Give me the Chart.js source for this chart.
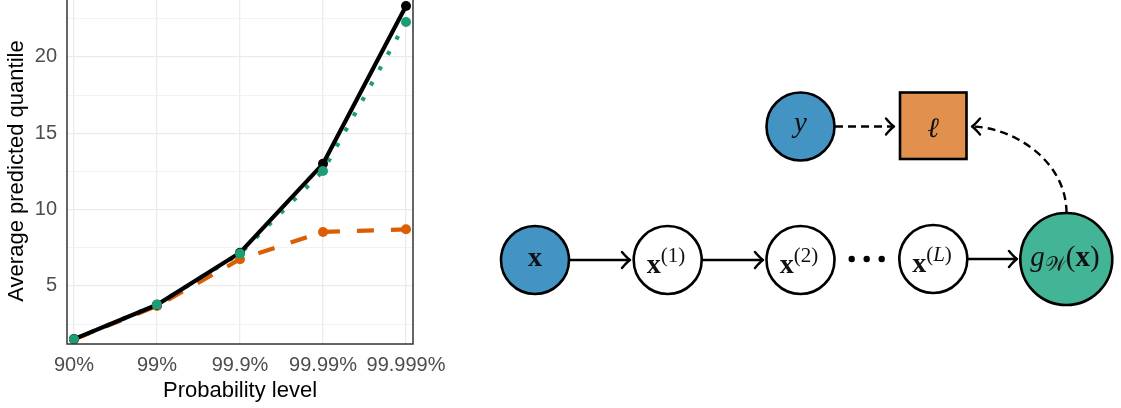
<!DOCTYPE html>
<html>
<head>
<meta charset="utf-8">
<script src="https://cdn.jsdelivr.net/npm/chart.js@4.4.1/dist/chart.umd.min.js"></script>
<style>
  html, body { margin: 0; padding: 0; background: #fff; overflow: hidden; }
  body { width: 1121px; height: 408px; position: relative; }
  #chartBox { position: absolute; left: 0; top: -7px; width: 460px; height: 417px; }
  #diagram { position: absolute; left: 0; top: 0; }
  .node { stroke: #000; stroke-width: 2.6; }
  .edge { stroke: #000; stroke-width: 2.4; fill: none; }
  .head { stroke: #000; stroke-width: 2.4; fill: none; stroke-linecap: round; stroke-linejoin: round; }
  .lbl { font-family: 'Liberation Serif', 'DejaVu Serif', serif; fill: #111; }
</style>
</head>
<body>
<div id="chartBox"><canvas id="quantileChart" width="460" height="417"></canvas></div>

<svg id="diagram" width="1121" height="408" xmlns="http://www.w3.org/2000/svg">
  <!-- edges -->
  <line class="edge" x1="569" y1="260" x2="630" y2="260"/>
  <path class="head" d="M622,252 Q627,258 630,260 Q627,262 622,268"/>
  <line class="edge" x1="702" y1="260" x2="763" y2="260"/>
  <path class="head" d="M755,252 Q760,258 763,260 Q760,262 755,268"/>
  <line class="edge" x1="967" y1="259" x2="1017" y2="259"/>
  <path class="head" d="M1009,251 Q1014,257 1017,259 Q1014,261 1009,267"/>

  <line class="edge" x1="835" y1="126.5" x2="894" y2="126.5" stroke-dasharray="8 5"/>
  <path class="head" d="M886,118.5 Q891,124.5 894,126.5 Q891,128.5 886,134.5"/>
  <path class="edge" d="M1066.5,213 C1066.5,160 1012,127 972,126.5" stroke-dasharray="8 5"/>
  <path class="head" d="M980,118.5 Q975,124.5 972,126.5 Q975,128.5 980,134.5"/>

  <!-- nodes -->
  <circle class="node" cx="535" cy="260" r="34" fill="#4393c3"/>
  <circle class="node" cx="667.7" cy="260" r="34" fill="#fff"/>
  <circle class="node" cx="800.5" cy="260" r="34" fill="#fff"/>
  <circle class="node" cx="933.3" cy="259" r="34" fill="#fff"/>
  <circle class="node" cx="1066.3" cy="259" r="46" fill="#43b596"/>
  <circle class="node" cx="800.5" cy="126.5" r="34" fill="#4393c3"/>
  <rect class="node" x="900" y="92.5" width="66.5" height="66.5" fill="#e1904d"/>

  <circle cx="851.7" cy="259" r="3.2" fill="#000"/>
  <circle cx="866.7" cy="259" r="3.2" fill="#000"/>
  <circle cx="881.7" cy="259" r="3.2" fill="#000"/>

  <!-- labels -->
  <text class="lbl" x="535" y="266" font-size="28" font-weight="bold" text-anchor="middle">x</text>
  <text class="lbl" x="666" y="273" font-size="28" text-anchor="middle"><tspan font-weight="bold">x</tspan><tspan font-size="21" dy="-11">(1)</tspan></text>
  <text class="lbl" x="799" y="273" font-size="28" text-anchor="middle"><tspan font-weight="bold">x</tspan><tspan font-size="21" dy="-11">(2)</tspan></text>
  <text class="lbl" x="932" y="272" font-size="28" text-anchor="middle"><tspan font-weight="bold">x</tspan><tspan font-size="21" dy="-11">(<tspan font-style="italic">L</tspan>)</tspan></text>
  <text class="lbl" x="800.5" y="132" font-size="29" font-style="italic" text-anchor="middle">y</text>
  <text class="lbl" x="933" y="136.5" font-size="28" font-style="italic" text-anchor="middle">ℓ</text>
  <text class="lbl" x="1065" y="266" font-size="29" text-anchor="middle"><tspan font-style="italic">g</tspan><tspan font-size="20" dy="5">𝒲</tspan><tspan dy="-5">(</tspan><tspan font-weight="bold">x</tspan><tspan>)</tspan></text>
</svg>

<script>
// probability levels on the x axis
const probLevels = ['90%', '99%', '99.9%', '99.99%', '99.999%']

// average predicted quantile per level
const solidSeries = [1.52, 3.77, 7.18, 13.0, 23.34]
const dottedSeries = [1.51, 3.78, 7.12, 12.53, 22.29]
const dashedSeries = [1.51, 3.69, 6.75, 8.54, 8.71]

// y axis ticks (labelled) and minor grid lines
const yTicks = [5, 10, 15, 20]
const yMinorTicks = [2.5, 7.5, 12.5, 17.5, 22.5]

const black = '#000000'
const green = '#1b9e77'
const orange = '#d95f02'

const toPoints = (vals) => vals.map((v, i) => ({ x: i, y: v }))

const lineSet = (vals, color, dash) => ({
  data: toPoints(vals),
  borderColor: color,
  borderWidth: 4.2,
  borderDash: dash,
  borderCapStyle: 'butt',
  pointRadius: 0,
  tension: 0,
  clip: false,
})

const pointSet = (vals, color) => ({
  data: toPoints(vals),
  showLine: false,
  pointRadius: 5,
  pointBackgroundColor: color,
  pointBorderWidth: 0,
  clip: false,
})

// draws the panel frame on top of the data
const panelBorder = {
  id: 'panelBorder',
  afterDraw(chart) {
    const { ctx, chartArea: a } = chart
    ctx.save()
    ctx.strokeStyle = '#333333'
    ctx.lineWidth = 1.5
    ctx.strokeRect(a.left, a.top, a.right - a.left, a.bottom - a.top)
    ctx.restore()
  },
}

const tickFont = { family: "'Liberation Sans', Arial, sans-serif", size: 20 }
const titleFont = { family: "'Liberation Sans', Arial, sans-serif", size: 22 }

new Chart(document.getElementById('quantileChart'), {
  type: 'line',
  data: {
    // first dataset is drawn on top
    datasets: [
      pointSet(dottedSeries, green),
      pointSet(solidSeries, black),
      pointSet(dashedSeries, orange),
      lineSet(solidSeries, black, []),
      lineSet(dottedSeries, green, [4, 13.5]),
      lineSet(dashedSeries, orange, [17, 17]),
    ],
  },
  options: {
    responsive: false,
    animation: false,
    devicePixelRatio: 1,
    layout: { padding: { left: 0, right: 47, top: 0, bottom: 0 } },
    plugins: { legend: { display: false }, tooltip: { enabled: false } },
    scales: {
      x: {
        type: 'linear',
        min: -0.0843,
        max: 4.0843,
        afterBuildTicks: (scale) => {
          scale.ticks = probLevels.map((_, i) => ({ value: i }))
        },
        afterFit: (scale) => {
          scale.height = 66
          scale.paddingLeft = 0
          scale.paddingRight = 0
        },
        ticks: {
          autoSkip: false,
          maxRotation: 0,
          padding: 9,
          color: '#4d4d4d',
          font: tickFont,
          callback: (v) => probLevels[v],
        },
        grid: { color: '#ebebeb', lineWidth: 1.3, drawTicks: false },
        border: { display: false },
        title: {
          display: true,
          text: 'Probability level',
          color: '#000',
          font: titleFont,
          padding: { top: 0, bottom: 6 },
        },
      },
      y: {
        min: 1.2,
        max: 23.86,
        afterBuildTicks: (scale) => {
          scale.ticks = [...yMinorTicks, ...yTicks]
            .sort((a, b) => a - b)
            .map((v) => ({ value: v }))
        },
        afterFit: (scale) => {
          scale.width = 67
          scale.paddingTop = 0
          scale.paddingBottom = 0
        },
        ticks: {
          padding: 10,
          color: '#4d4d4d',
          font: tickFont,
          callback: (v) => (yTicks.includes(v) ? v : ''),
        },
        grid: {
          drawTicks: false,
          color: (c) => (c.tick && yTicks.includes(c.tick.value) ? '#ebebeb' : '#f2f2f2'),
          lineWidth: (c) => (c.tick && yTicks.includes(c.tick.value) ? 1.3 : 1),
        },
        border: { display: false },
        title: {
          display: true,
          text: 'Average predicted quantile',
          color: '#000',
          font: titleFont,
          padding: { top: 4, bottom: 0 },
        },
      },
    },
  },
  plugins: [panelBorder],
})
</script>
</body>
</html>
